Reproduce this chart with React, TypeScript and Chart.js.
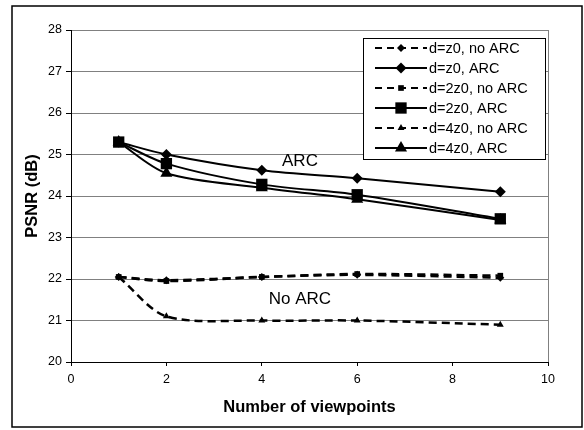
import React, { useEffect, useRef } from "react";
import { Chart, registerables } from "chart.js";

Chart.register(...registerables);

const viewpoints = [1, 2, 4, 6, 9];
const zNoArc = [22.05, 21.97, 22.05, 22.1, 22.03];
const zArc = [25.3, 25.0, 24.62, 24.43, 24.1];
const z2NoArc = [22.05, 21.95, 22.05, 22.12, 22.08];
const z2Arc = [25.3, 24.78, 24.28, 24.03, 23.45];
const z4NoArc = [22.05, 21.1, 21.0, 21.0, 20.9];
const z4Arc = [25.3, 24.55, 24.2, 23.92, 23.42];

const labels = ["d=z0, no ARC", "d=z0, ARC", "d=2z0, no ARC", "d=2z0, ARC", "d=4z0, no ARC", "d=4z0, ARC"];
const seriesValues = [zNoArc, zArc, z2NoArc, z2Arc, z4NoArc, z4Arc];
const shapes = ["rectRot", "rectRot", "rect", "rect", "triangle", "triangle"];
const dashed = [true, false, true, false, true, false];
const radii = [4, 5.5, 4, 8, 4, 7];

const FONT = "'Liberation Sans', Arial, sans-serif";

function drawMarker(ctx: CanvasRenderingContext2D, shape: string, r: number, x: number, y: number) {
  ctx.beginPath();
  if (shape === "rectRot") {
    ctx.moveTo(x, y - r);
    ctx.lineTo(x + r, y);
    ctx.lineTo(x, y + r);
    ctx.lineTo(x - r, y);
  } else if (shape === "rect") {
    const s = r * Math.SQRT1_2;
    ctx.rect(x - s, y - s, 2 * s, 2 * s);
  } else {
    const a = (2 * Math.PI) / 3;
    ctx.moveTo(x, y - r);
    ctx.lineTo(x + Math.sin(a) * r, y - Math.cos(a) * r);
    ctx.lineTo(x + Math.sin(2 * a) * r, y - Math.cos(2 * a) * r);
  }
  ctx.closePath();
  ctx.fill();
}

export default function App() {
  const ref = useRef<HTMLCanvasElement>(null);
  useEffect(() => {
    const datasets = labels.map((label, i) => ({
      label,
      data: viewpoints.map((x, j) => ({ x, y: seriesValues[i][j] })),
      borderColor: "#000",
      backgroundColor: "#000",
      borderWidth: dashed[i] ? 2.5 : 2,
      borderDash: dashed[i] ? [8, 5] : [],
      pointStyle: shapes[i] as any,
      pointRadius: radii[i],
      pointBackgroundColor: "#000",
      pointBorderColor: "#000",
      pointBorderWidth: 0,
      tension: 0.3,
      fill: false,
    }));

    const decor = {
      id: "decor",
      beforeDraw(chart: any) {
        const ctx = chart.ctx;
        ctx.save();
        ctx.fillStyle = "#fff";
        ctx.fillRect(0, 0, chart.width, chart.height);
        ctx.strokeStyle = "#000";
        ctx.lineWidth = 1.5;
        ctx.strokeRect(12, 6, 570, 421);
        ctx.restore();
      },
      afterDatasetsDraw(chart: any) {
        const ctx = chart.ctx;
        const { chartArea, scales } = chart;
        ctx.save();
        ctx.strokeStyle = "#808080";
        ctx.lineWidth = 1;
        ctx.beginPath();
        ctx.moveTo(Math.round(chartArea.right) + 0.5, chartArea.top);
        ctx.lineTo(Math.round(chartArea.right) + 0.5, chartArea.bottom);
        ctx.stroke();
        ctx.fillStyle = "#000";
        ctx.font = `17px ${FONT}`;
        ctx.textAlign = "center";
        ctx.textBaseline = "middle";
        ctx.fillText("ARC", scales.x.getPixelForValue(4.8), scales.y.getPixelForValue(24.83));
        ctx.fillText("No ARC", scales.x.getPixelForValue(4.8), scales.y.getPixelForValue(21.5));
        const lx = 363, ly = 38, lw = 182, lh = 121;
        ctx.fillStyle = "#fff";
        ctx.fillRect(lx, ly, lw, lh);
        ctx.strokeStyle = "#000";
        ctx.lineWidth = 1;
        ctx.strokeRect(lx + 0.5, ly + 0.5, lw, lh);
        ctx.font = `14.5px ${FONT}`;
        ctx.textAlign = "left";
        chart.data.datasets.forEach((ds: any, i: number) => {
          const y = 48 + i * 20;
          ctx.strokeStyle = "#000";
          ctx.lineWidth = 2;
          ctx.setLineDash(dashed[i] ? [7, 5] : []);
          ctx.beginPath();
          ctx.moveTo(375, y);
          ctx.lineTo(427, y);
          ctx.stroke();
          ctx.setLineDash([]);
          ctx.fillStyle = "#000";
          drawMarker(ctx, shapes[i], radii[i], 401, y);
          ctx.fillText(ds.label, 429, y + 1);
        });
        ctx.restore();
      },
    };

    const chart = new Chart(ref.current!, {
      type: "line",
      data: { datasets: datasets as any },
      options: {
        animation: false,
        responsive: false,
        layout: { padding: { left: 0, right: 36, top: 30, bottom: 13 } },
        plugins: { legend: { display: false }, tooltip: { enabled: false } },
        scales: {
          x: {
            type: "linear",
            min: 0,
            max: 10,
            ticks: { stepSize: 2, color: "#000", font: { family: FONT, size: 12.5 }, padding: 6, maxRotation: 0 },
            grid: { drawOnChartArea: false, tickColor: "#000", tickLength: 4, color: "#000" },
            border: { color: "#000", width: 1 },
            title: { display: true, text: "Number of viewpoints", color: "#000", font: { family: FONT, size: 16.5, weight: "bold" }, padding: { top: 0, bottom: 0 } },
            afterFit(scale: any) { scale.height = 55; },
          },
          y: {
            min: 20,
            max: 28,
            ticks: { stepSize: 1, color: "#000", font: { family: FONT, size: 12.5 }, padding: 4 },
            grid: { color: "#808080", tickColor: "#000", tickLength: 5, lineWidth: 1 },
            border: { color: "#000", width: 1 },
            title: { display: true, text: "PSNR (dB)", color: "#000", font: { family: FONT, size: 16.5, weight: "bold" }, padding: { top: 23, bottom: 0 } },
            afterFit(scale: any) { scale.width = 71; },
          },
        },
      },
      plugins: [decor],
    });
    return () => chart.destroy();
  }, []);
  return (
    <div style={{ position: "fixed", left: 0, top: 0, width: 584, height: 430 }}>
      <canvas ref={ref} width={584} height={430} style={{ width: 584, height: 430 }} />
    </div>
  );
}
